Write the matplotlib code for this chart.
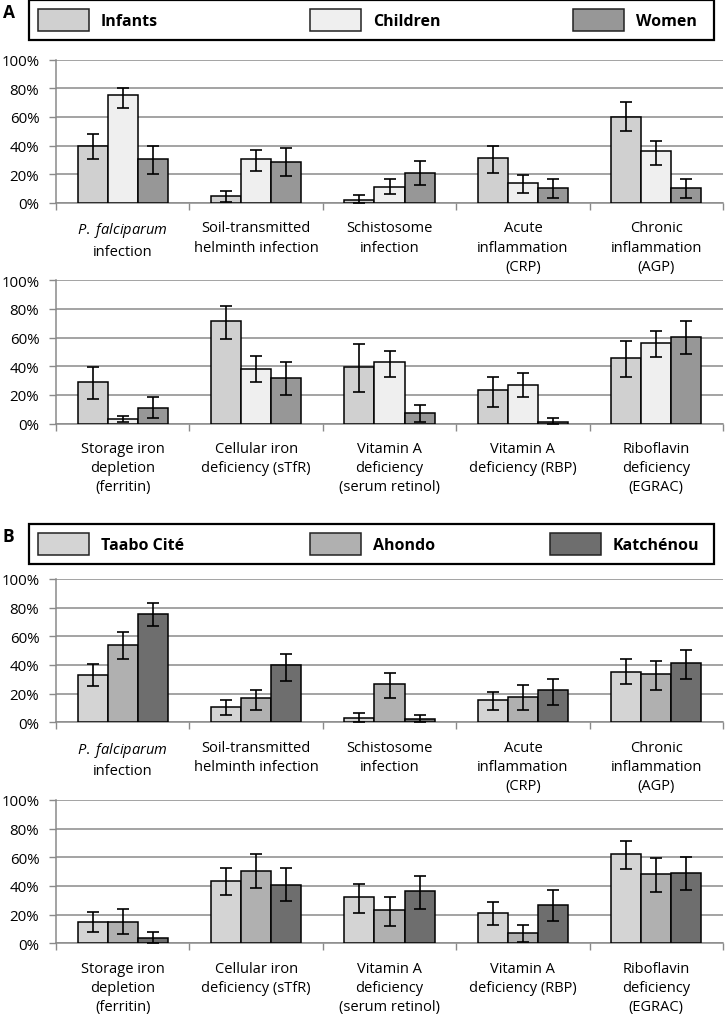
import matplotlib
matplotlib.use("Agg")
import matplotlib.pyplot as plt
from matplotlib.patches import Rectangle
import numpy as np

plt.rcParams['font.family'] = ['Open Sans', 'DejaVu Sans']
plt.rcParams['mathtext.fontset'] = 'custom'
plt.rcParams['mathtext.rm'] = 'Open Sans'
plt.rcParams['mathtext.it'] = 'Open Sans:italic'

# ---------------- data ----------------
cats_top = ["$\\it{P.\\ falciparum}$\ninfection", "Soil-transmitted\nhelminth infection",
            "Schistosome\ninfection", "Acute\ninflammation\n(CRP)", "Chronic\ninflammation\n(AGP)"]
cats_bottom = ["Storage iron\ndepletion\n(ferritin)", "Cellular iron\ndeficiency (sTfR)",
               "Vitamin A\ndeficiency\n(serum retinol)", "Vitamin A\ndeficiency (RBP)",
               "Riboflavin\ndeficiency\n(EGRAC)"]
yticks = [0, 20, 40, 60, 80, 100]
ytick_labels = ["0%", "20%", "40%", "60%", "80%", "100%"]

groups_A = ["Infants", "Children", "Women"]
groups_B = ["Taabo Cité", "Ahondo", "Katchénou"]

# Panel A, upper row (percent, lower CI, upper CI)
A1_infants = [39.5, 4.6, 1.9, 31.6, 59.9]
A1_infants_lo = [30.4, 0.9, 0.0, 20.9, 49.9]
A1_infants_hi = [48.0, 8.4, 5.6, 39.7, 70.4]
A1_children = [75.3, 30.4, 10.9, 13.7, 36.2]
A1_children_lo = [66.0, 22.1, 6.3, 7.2, 26.7]
A1_children_hi = [80.0, 36.9, 16.7, 19.3, 43.4]
A1_women = [30.4, 28.8, 21.1, 10.2, 10.2]
A1_women_lo = [20.2, 19.0, 12.5, 3.3, 3.3]
A1_women_hi = [39.5, 38.6, 29.5, 16.7, 16.7]

# Panel A, lower row
A2_infants = [28.8, 71.3, 39.3, 23.5, 45.5]
A2_infants_lo = [17.2, 59.2, 22.3, 11.8, 32.5]
A2_infants_hi = [39.7, 82.0, 55.7, 32.3, 57.4]
A2_children = [3.0, 38.1, 42.7, 26.9, 56.4]
A2_children_lo = [1.2, 28.8, 32.5, 18.4, 46.2]
A2_children_hi = [5.3, 47.4, 50.9, 35.5, 64.8]
A2_women = [11.1, 31.6, 7.4, 1.4, 60.2]
A2_women_lo = [3.7, 20.2, 1.2, 0.0, 48.5]
A2_women_hi = [18.6, 42.7, 13.0, 3.7, 71.3]

# Panel B, upper row
B1_taabo = [33.0, 10.5, 3.0, 15.6, 34.9]
B1_taabo_lo = [25.3, 5.1, 0.0, 8.8, 26.5]
B1_taabo_hi = [40.5, 15.3, 6.3, 20.9, 44.0]
B1_ahondo = [54.2, 17.0, 26.7, 17.4, 34.0]
B1_ahondo_lo = [44.0, 8.6, 17.0, 8.8, 22.6]
B1_ahondo_hi = [62.6, 22.8, 34.2, 25.8, 43.0]
B1_katch = [75.6, 40.0, 2.3, 22.8, 41.2]
B1_katch_lo = [67.2, 29.1, 0.0, 12.3, 30.0]
B1_katch_hi = [83.0, 47.9, 5.3, 30.2, 50.7]

# Panel B, lower row
B2_taabo = [14.7, 43.5, 32.1, 20.9, 61.9]
B2_taabo_lo = [8.1, 34.0, 21.2, 12.8, 51.9]
B2_taabo_hi = [22.1, 52.6, 41.6, 28.6, 71.2]
B2_ahondo = [14.7, 50.7, 23.0, 7.2, 48.1]
B2_ahondo_lo = [6.3, 38.6, 11.9, 0.7, 36.0]
B2_ahondo_hi = [24.0, 61.9, 32.1, 12.8, 59.1]
B2_katch = [3.7, 40.7, 36.3, 26.7, 49.1]
B2_katch_lo = [0.0, 29.5, 24.0, 15.3, 37.0]
B2_katch_hi = [8.1, 52.6, 47.2, 36.9, 60.0]

colors_A = ["#d0d0d0", "#efefef", "#979797"]
colors_B = ["#d4d4d4", "#b0b0b0", "#6e6e6e"]

# ---------------- figure ----------------
W, H = 725, 1020
fig = plt.figure(figsize=(W / 100, H / 100), dpi=100)

GRID = "#8a8a8a"


def axes_px(left, right, top, bottom):
    return fig.add_axes([left / W, 1 - bottom / H, (right - left) / W, (bottom - top) / H])


def draw_panel(ax, cats, series, lows, highs, colors):
    x = np.arange(len(cats))
    width = 0.225
    offsets = [-width, 0, width]
    for vals, lo, hi, col, off in zip(series, lows, highs, colors, offsets):
        vals = np.array(vals)
        err = np.vstack([vals - np.array(lo), np.array(hi) - vals])
        ax.bar(x + off, vals, width, color=col, edgecolor="black", linewidth=1.1, zorder=3)
        ax.errorbar(x + off, vals, yerr=err, fmt="none", ecolor="black",
                    elinewidth=1.2, capsize=4.3, capthick=1.2, zorder=4)
    ax.set_xlim(-0.5, len(cats) - 0.5)
    ax.set_ylim(0, 100)
    ax.set_yticks(yticks)
    ax.set_yticklabels(ytick_labels)
    ax.yaxis.grid(True, color=GRID, linewidth=1.1)
    ax.set_axisbelow(True)
    ax.set_xticks(x)
    ax.set_xticklabels(cats, fontsize=10.5, linespacing=1.38, va="top")
    ax.set_xticks(np.arange(len(cats) + 1) - 0.5, minor=True)
    ax.tick_params(axis="x", which="major", length=0, pad=12.5)
    ax.tick_params(axis="x", which="minor", length=5, color=GRID, width=1)
    ax.tick_params(axis="y", length=5, color=GRID, width=1, labelsize=10.8, pad=7)
    for s in ["top", "right"]:
        ax.spines[s].set_visible(False)
    for s in ["left", "bottom"]:
        ax.spines[s].set_color(GRID)
        ax.spines[s].set_linewidth(1.1)


def draw_legend(top, names, colors, positions, letter):
    fig.add_artist(Rectangle((29 / W, 1 - (top + 40) / H), 685 / W, 40 / H,
                             transform=fig.transFigure, fill=False,
                             edgecolor="black", linewidth=1.6))
    for name, col, px in zip(names, colors, positions):
        fig.add_artist(Rectangle((px / W, 1 - (top + 31) / H), 51 / W, 22 / H,
                                 transform=fig.transFigure, facecolor=col,
                                 edgecolor="#222222", linewidth=1.1))
        fig.text((px + 63) / W, 1 - (top + 21) / H, name, fontsize=11.5,
                 fontweight="bold", va="center", ha="left")
    fig.text(3 / W, 1 - (top + 12) / H, letter, fontsize=12.5, fontweight="bold",
             va="center", ha="left")


axA1 = axes_px(56, 723, 60.5, 204)
draw_panel(axA1, cats_top, [A1_infants, A1_children, A1_women],
           [A1_infants_lo, A1_children_lo, A1_women_lo],
           [A1_infants_hi, A1_children_hi, A1_women_hi], colors_A)

axA2 = axes_px(56, 723, 281.2, 424.7)
draw_panel(axA2, cats_bottom, [A2_infants, A2_children, A2_women],
           [A2_infants_lo, A2_children_lo, A2_women_lo],
           [A2_infants_hi, A2_children_hi, A2_women_hi], colors_A)

axB1 = axes_px(56, 723, 579.8, 723.3)
draw_panel(axB1, cats_top, [B1_taabo, B1_ahondo, B1_katch],
           [B1_taabo_lo, B1_ahondo_lo, B1_katch_lo],
           [B1_taabo_hi, B1_ahondo_hi, B1_katch_hi], colors_B)

axB2 = axes_px(56, 723, 800.8, 944.3)
draw_panel(axB2, cats_bottom, [B2_taabo, B2_ahondo, B2_katch],
           [B2_taabo_lo, B2_ahondo_lo, B2_katch_lo],
           [B2_taabo_hi, B2_ahondo_hi, B2_katch_hi], colors_B)

draw_legend(1, groups_A, colors_A, [38, 310, 573], "A")
draw_legend(525, groups_B, colors_B, [38, 310, 550], "B")

fig.savefig("out.png", dpi=100)
